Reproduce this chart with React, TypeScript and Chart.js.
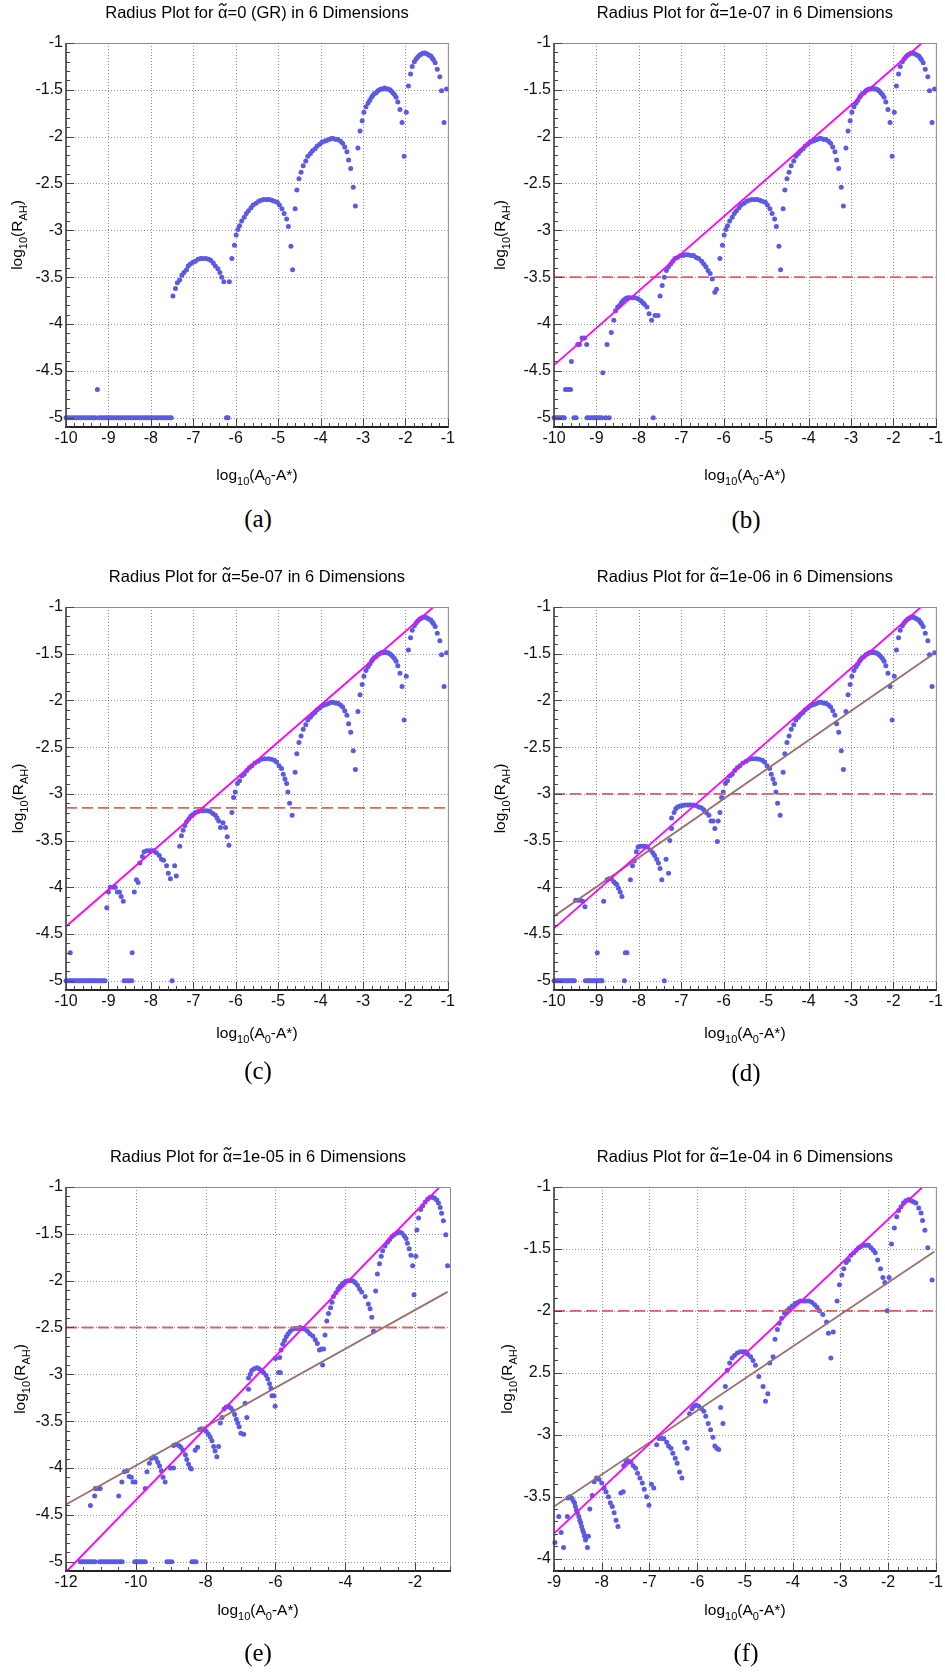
import React, { useEffect, useRef } from "react";
import { Chart, registerables } from "chart.js";
Chart.register(...registerables);

type P = [number, number];

// ---------- tick labels ----------
const xTicks10 = [-10, -9, -8, -7, -6, -5, -4, -3, -2, -1];
const xLabels10 = ["-10", "-9", "-8", "-7", "-6", "-5", "-4", "-3", "-2", "-1"];
const xTicks12 = [-12, -10, -8, -6, -4, -2];
const xLabels12 = ["-12", "-10", "-8", "-6", "-4", "-2"];
const xTicks9 = [-9, -8, -7, -6, -5, -4, -3, -2, -1];
const xLabels9 = ["-9", "-8", "-7", "-6", "-5", "-4", "-3", "-2", "-1"];
const yTicks5 = [-5, -4.5, -4, -3.5, -3, -2.5, -2, -1.5, -1];
const yLabels5 = ["-5", "-4.5", "-4", "-3.5", "-3", "-2.5", "-2", "-1.5", "-1"];
const yTicks4 = [-4, -3.5, -3, -2.5, -2, -1.5, -1];
const yLabels4 = ["-4", "-3.5", "-3", "2.5", "-2", "-1.5", "-1"];

// title pieces: [before alpha, alpha, after alpha]
const titleHead = "Radius Plot for ";
const titleAlpha = "\u03b1";
const titleTails = ["=0 (GR) in 6 Dimensions", "=1e-07 in 6 Dimensions", "=5e-07 in 6 Dimensions", "=1e-06 in 6 Dimensions", "=1e-05 in 6 Dimensions", "=1e-04 in 6 Dimensions"];
const captions = ["(a)", "(b)", "(c)", "(d)", "(e)", "(f)"];
const floorLevel = -5;

// ---------- shared upper arches (panels a-d) ----------
const archHi6: P[] = [[-1.93,-1.46],[-1.88,-1.33],[-1.84,-1.25],[-1.79,-1.2],[-1.75,-1.17],[-1.71,-1.15],[-1.67,-1.13],[-1.63,-1.12],[-1.59,-1.11],[-1.55,-1.107],[-1.52,-1.11],[-1.48,-1.12],[-1.44,-1.13],[-1.4,-1.14],[-1.37,-1.16],[-1.34,-1.18],[-1.3,-1.21],[-1.25,-1.28],[-1.19,-1.36],[-1.15,-1.51],[-1.09,-1.85],[-1.03,-1.49]];
const archHi5: P[] = [[-3.12,-2.12],[-3.07,-1.94],[-3.02,-1.83],[-2.98,-1.74],[-2.93,-1.68],[-2.88,-1.64],[-2.84,-1.61],[-2.8,-1.58],[-2.77,-1.56],[-2.73,-1.54],[-2.69,-1.53],[-2.65,-1.51],[-2.61,-1.5],[-2.57,-1.49],[-2.53,-1.49],[-2.49,-1.48],[-2.45,-1.49],[-2.41,-1.49],[-2.37,-1.5],[-2.34,-1.51],[-2.3,-1.53],[-2.26,-1.55],[-2.22,-1.58],[-2.18,-1.63],[-2.13,-1.71],[-2.08,-1.85],[-2.03,-2.21],[-1.98,-1.74]];
const archHi4: P[] = [[-4.6,-2.77],[-4.56,-2.57],[-4.51,-2.45],[-4.46,-2.38],[-4.41,-2.31],[-4.35,-2.26],[-4.3,-2.21],[-4.24,-2.18],[-4.19,-2.15],[-4.13,-2.13],[-4.08,-2.1],[-4.02,-2.08],[-3.97,-2.06],[-3.91,-2.05],[-3.86,-2.04],[-3.8,-2.03],[-3.75,-2.02],[-3.7,-2.02],[-3.64,-2.03],[-3.59,-2.03],[-3.53,-2.05],[-3.48,-2.07],[-3.43,-2.11],[-3.38,-2.16],[-3.34,-2.25],[-3.29,-2.34],[-3.23,-2.54],[-3.18,-2.74]];
const archMid3ab: P[] = [[-6.09,-3.3],[-6.03,-3.16],[-5.99,-3.05],[-5.95,-2.99],[-5.91,-2.95],[-5.86,-2.9],[-5.8,-2.86],[-5.75,-2.82],[-5.7,-2.79],[-5.64,-2.76],[-5.59,-2.73],[-5.52,-2.71],[-5.46,-2.69],[-5.4,-2.68],[-5.34,-2.67],[-5.27,-2.67],[-5.21,-2.67],[-5.15,-2.68],[-5.09,-2.69],[-5.02,-2.7],[-4.97,-2.73],[-4.91,-2.77],[-4.86,-2.82],[-4.8,-2.88],[-4.76,-2.96],[-4.7,-3.17],[-4.66,-3.42]];
const archMid3cd: P[] = [[-6.09,-3.2],[-6.05,-3.04],[-6.01,-2.98],[-5.96,-2.89],[-5.91,-2.86],[-5.86,-2.81],[-5.8,-2.79],[-5.74,-2.75],[-5.68,-2.72],[-5.62,-2.7],[-5.55,-2.67],[-5.47,-2.65],[-5.39,-2.63],[-5.31,-2.625],[-5.23,-2.625],[-5.16,-2.63],[-5.09,-2.64],[-5.04,-2.66],[-4.98,-2.7],[-4.92,-2.73],[-4.88,-2.79],[-4.84,-2.84],[-4.8,-2.89],[-4.77,-2.98],[-4.73,-3.1],[-4.67,-3.23]];

// ---------- panel (a) ----------
const aArch2: P[] = [[-7.48,-3.7],[-7.42,-3.62],[-7.375,-3.56],[-7.32,-3.53],[-7.27,-3.48],[-7.22,-3.45],[-7.16,-3.42],[-7.12,-3.38],[-7.07,-3.36],[-7.01,-3.34],[-6.95,-3.33],[-6.89,-3.31],[-6.83,-3.3],[-6.77,-3.3],[-6.7,-3.3],[-6.64,-3.31],[-6.59,-3.32],[-6.53,-3.35],[-6.48,-3.38],[-6.42,-3.41],[-6.375,-3.45],[-6.33,-3.5],[-6.28,-3.55],[-6.15,-3.55]];
const aLow: P[] = [[-9.26,-4.7],[-6.22,-5],[-6.18,-5]];
const aFloorX = [-10,-9.95,-9.9,-9.85,-9.8,-9.75,-9.7,-9.65,-9.6,-9.55,-9.5,-9.45,-9.4,-9.35,-9.3,-9.22,-9.17,-9.12,-9.07,-9.02,-8.97,-8.92,-8.87,-8.82,-8.77,-8.72,-8.67,-8.62,-8.57,-8.52,-8.47,-8.42,-8.37,-8.32,-8.27,-8.22,-8.17,-8.12,-8.07,-8.02,-7.97,-7.92,-7.87,-7.82,-7.77,-7.72,-7.67,-7.62,-7.57,-7.52];

// ---------- panel (b) ----------
const bArch2: P[] = [[-7.5,-3.7],[-7.45,-3.59],[-7.4,-3.5],[-7.35,-3.43],[-7.3,-3.39],[-7.25,-3.36],[-7.2,-3.33],[-7.15,-3.3],[-7.09,-3.29],[-7.02,-3.27],[-6.96,-3.27],[-6.9,-3.26],[-6.84,-3.26],[-6.77,-3.27],[-6.71,-3.27],[-6.65,-3.29],[-6.59,-3.3],[-6.52,-3.33],[-6.47,-3.36],[-6.42,-3.39],[-6.37,-3.43],[-6.32,-3.46],[-6.27,-3.52],[-6.21,-3.66],[-6.17,-3.63]];
const bArch1: P[] = [[-8.65,-4.09],[-8.59,-3.96],[-8.55,-3.86],[-8.5,-3.82],[-8.45,-3.8],[-8.41,-3.77],[-8.37,-3.75],[-8.32,-3.73],[-8.27,-3.72],[-8.21,-3.72],[-8.15,-3.72],[-8.09,-3.72],[-8.02,-3.73],[-7.96,-3.75],[-7.91,-3.77],[-7.87,-3.79],[-7.81,-3.82],[-7.76,-3.89],[-7.7,-3.96],[-7.62,-3.91],[-7.55,-3.91]];
const bLow: P[] = [[-9.59,-4.4],[-9.73,-4.7],[-9.67,-4.7],[-9.61,-4.7],[-9.44,-4.22],[-9.4,-4.22],[-9.34,-4.15],[-9.28,-4.15],[-9.23,-4.22],[-8.85,-4.52],[-8.75,-4.22],[-7.66,-5]];
const bFloorX = [-10,-9.96,-9.92,-9.88,-9.84,-9.8,-9.76,-9.53,-9.48,-9.22,-9.17,-9.12,-9.07,-9.02,-8.97,-8.92,-8.87,-8.78,-8.7];
const bFit: P[] = [[-10,-4.44],[-1.33,-1]];
const bCut = -3.5;

// ---------- panel (c) ----------
const cArch2: P[] = [[-7.32,-3.56],[-7.28,-3.45],[-7.24,-3.39],[-7.2,-3.34],[-7.16,-3.3],[-7.11,-3.27],[-7.06,-3.24],[-7.01,-3.22],[-6.95,-3.2],[-6.88,-3.19],[-6.8,-3.18],[-6.73,-3.18],[-6.66,-3.18],[-6.6,-3.19],[-6.54,-3.21],[-6.48,-3.23],[-6.44,-3.26],[-6.4,-3.29],[-6.36,-3.36],[-6.3,-3.31],[-6.24,-3.36],[-6.2,-3.46],[-6.16,-3.55]];
const cArch1: P[] = [[-7.44,-3.77],[-7.4,-3.88],[-7.54,-3.91],[-7.59,-3.85],[-7.63,-3.77],[-7.7,-3.71],[-7.75,-3.7],[-7.8,-3.66],[-7.87,-3.63],[-7.93,-3.61],[-7.98,-3.61],[-8.04,-3.61],[-8.1,-3.61],[-8.16,-3.62],[-8.2,-3.67],[-8.26,-3.74],[-8.3,-3.95],[-8.34,-3.92],[-8.39,-4.05]];
const cArch0: P[] = [[-8.96,-4.0],[-8.88,-4.0],[-8.84,-4.0],[-8.79,-4.05],[-8.74,-4.05],[-8.7,-4.1],[-8.65,-4.15],[-9.04,-4.22],[-9.0,-4.05]];
const cLow: P[] = [[-9.9,-4.7],[-8.44,-4.7],[-7.5,-5]];
const cFloorX = [-10,-9.96,-9.92,-9.88,-9.84,-9.8,-9.76,-9.72,-9.68,-9.64,-9.6,-9.56,-9.52,-9.48,-9.44,-9.4,-9.36,-9.32,-9.28,-9.24,-9.2,-9.16,-9.12,-9.08,-8.63,-8.57,-8.51,-8.45];
const cFit: P[] = [[-10,-4.42],[-1.34,-1]];
const cCut = -3.15;

// ---------- panel (d) ----------
const dArch2: P[] = [[-7.23,-3.26],[-7.17,-3.2],[-7.13,-3.16],[-7.09,-3.14],[-7.03,-3.13],[-6.97,-3.125],[-6.91,-3.12],[-6.84,-3.12],[-6.78,-3.12],[-6.72,-3.12],[-6.66,-3.125],[-6.59,-3.14],[-6.53,-3.15],[-6.47,-3.17],[-6.41,-3.2],[-6.35,-3.23],[-6.3,-3.29],[-6.25,-3.29],[-6.21,-3.37],[-6.15,-3.51],[-6.13,-3.29]];
const dArch1b: P[] = [[-7.27,-3.5],[-7.23,-3.37],[-7.3,-3.85],[-7.36,-3.7],[-7.46,-3.92],[-7.5,-3.8],[-7.54,-3.74],[-7.58,-3.7],[-7.63,-3.66],[-7.67,-3.63],[-7.73,-3.6],[-7.8,-3.57],[-7.85,-3.56],[-7.91,-3.56],[-7.97,-3.56],[-8.02,-3.57],[-8.06,-3.62],[-8.11,-3.72],[-8.15,-3.77],[-8.2,-3.92]];
const dArch1a: P[] = [[-8.75,-3.92],[-8.7,-3.91],[-8.65,-3.91],[-8.59,-3.94],[-8.55,-3.96],[-8.52,-3.97],[-8.48,-4.01],[-8.44,-4.05],[-8.4,-4.1],[-8.83,-4.15]];
const dLow: P[] = [[-9.49,-4.14],[-9.43,-4.14],[-9.375,-4.14],[-9.32,-4.15],[-9.27,-4.21],[-8.98,-4.7],[-8.32,-4.7],[-8.28,-4.7],[-8.34,-5],[-7.4,-5]];
const dFloorX = [-10,-9.96,-9.92,-9.88,-9.84,-9.8,-9.76,-9.72,-9.68,-9.64,-9.6,-9.56,-9.52,-9.26,-9.22,-9.18,-9.14,-9.1,-9.06,-9.02,-8.98,-8.94,-8.9,-8.87];
const dFit: P[] = [[-10,-4.44],[-1.35,-1]];
const dFit2: P[] = [[-10,-4.31],[-1.05,-1.5]];
const dCut = -3.0;

// ---------- panel (e) ----------
const e6: P[] = [[-1.95,-1.46],[-1.9,-1.33],[-1.84,-1.24],[-1.78,-1.2],[-1.71,-1.16],[-1.64,-1.13],[-1.57,-1.11],[-1.5,-1.11],[-1.44,-1.12],[-1.38,-1.14],[-1.33,-1.17],[-1.28,-1.22],[-1.24,-1.28],[-1.19,-1.36],[-1.12,-1.51],[-1.07,-1.84]];
const e5: P[] = [[-3.13,-2.11],[-3.08,-1.93],[-3.02,-1.82],[-2.97,-1.74],[-2.93,-1.68],[-2.86,-1.63],[-2.79,-1.59],[-2.73,-1.56],[-2.67,-1.53],[-2.6,-1.51],[-2.52,-1.49],[-2.45,-1.48],[-2.38,-1.49],[-2.31,-1.52],[-2.26,-1.55],[-2.22,-1.6],[-2.17,-1.66],[-2.12,-1.73],[-2.07,-1.84],[-2.03,-2.15],[-1.98,-1.74]];
const e4: P[] = [[-4.58,-2.58],[-4.53,-2.43],[-4.48,-2.35],[-4.42,-2.29],[-4.38,-2.23],[-4.34,-2.17],[-4.27,-2.13],[-4.21,-2.09],[-4.15,-2.06],[-4.08,-2.03],[-4.0,-2.01],[-3.93,-2.0],[-3.86,-2.0],[-3.78,-2.0],[-3.72,-2.02],[-3.65,-2.05],[-3.59,-2.09],[-3.53,-2.12],[-3.43,-2.17],[-3.34,-2.25],[-3.29,-2.3],[-3.24,-2.39],[-3.19,-2.54]];
const e3: P[] = [[-6.0,-2.83],[-5.91,-2.98],[-5.86,-2.98],[-5.88,-2.82],[-5.84,-2.74],[-5.79,-2.68],[-5.74,-2.64],[-5.69,-2.6],[-5.64,-2.57],[-5.58,-2.54],[-5.51,-2.52],[-5.44,-2.51],[-5.36,-2.51],[-5.29,-2.5],[-5.23,-2.51],[-5.15,-2.52],[-5.08,-2.54],[-5.01,-2.57],[-4.93,-2.59],[-4.86,-2.63],[-4.8,-2.67],[-4.74,-2.74],[-4.68,-2.73],[-4.62,-2.73],[-4.65,-2.9]];
const e2: P[] = [[-6.87,-3.31],[-6.82,-3.46],[-6.77,-3.16],[-6.77,-3.04],[-6.72,-3.0],[-6.68,-2.96],[-6.61,-2.94],[-6.53,-2.93],[-6.47,-2.94],[-6.41,-2.96],[-6.34,-2.98],[-6.27,-3.01],[-6.22,-3.05],[-6.17,-3.1],[-6.13,-3.15],[-6.1,-3.23],[-6.04,-3.23],[-6.01,-3.34]];
const e1d: P[] = [[-7.58,-3.52],[-7.53,-3.46],[-7.47,-3.37],[-7.41,-3.35],[-7.34,-3.34],[-7.28,-3.36],[-7.22,-3.39],[-7.17,-3.43],[-7.12,-3.48],[-7.08,-3.52],[-7.04,-3.56],[-6.99,-3.63],[-6.91,-3.64]];
const e1c: P[] = [[-8.3,-3.81],[-8.23,-3.78],[-8.17,-3.59],[-8.11,-3.58],[-8.04,-3.59],[-7.98,-3.61],[-7.92,-3.64],[-7.87,-3.67],[-7.82,-3.71],[-7.77,-3.77],[-7.73,-3.82],[-7.68,-3.88],[-7.63,-3.77]];
const e1b: P[] = [[-9.01,-4.0],[-8.92,-4.0],[-8.92,-3.76],[-8.85,-3.75],[-8.77,-3.76],[-8.71,-3.78],[-8.65,-3.81],[-8.58,-3.86],[-8.54,-3.91],[-8.49,-3.96],[-8.44,-4.0],[-8.41,-4.01]];
const e1a: P[] = [[-9.73,-4.22],[-9.68,-4.04],[-9.61,-3.95],[-9.56,-3.9],[-9.49,-3.88],[-9.42,-3.9],[-9.37,-3.94],[-9.32,-3.98],[-9.27,-4.03],[-9.22,-4.1],[-9.16,-4.15]];
const e0: P[] = [[-10.49,-4.3],[-10.4,-4.15],[-10.33,-4.04],[-10.25,-4.03],[-10.19,-4.09],[-10.13,-4.1],[-10.08,-4.15],[-10.02,-4.15]];
const eLow: P[] = [[-11.3,-4.4],[-11.18,-4.3],[-11.16,-4.22],[-11.09,-4.22],[-11.02,-4.22]];
const eFloorX = [-11.59,-11.53,-11.47,-11.41,-11.35,-11.29,-11.23,-11.17,-11.04,-10.98,-10.92,-10.86,-10.8,-10.74,-10.68,-10.62,-10.56,-10.5,-10.44,-10.39,-10.03,-9.97,-9.91,-9.85,-9.79,-9.73,-9.11,-9.04,-8.97,-8.39,-8.33,-8.28];
const eFit: P[] = [[-11.97,-5.1],[-1.3,-1]];
const eFit2: P[] = [[-12,-4.39],[-1.07,-2.12]];
const eCut = -2.5;

// ---------- panel (f) ----------
const f6: P[] = [[-1.93,-1.46],[-1.87,-1.33],[-1.82,-1.24],[-1.78,-1.19],[-1.73,-1.16],[-1.68,-1.13],[-1.63,-1.11],[-1.57,-1.1],[-1.52,-1.11],[-1.47,-1.12],[-1.42,-1.13],[-1.36,-1.17],[-1.31,-1.21],[-1.28,-1.27],[-1.23,-1.35],[-1.17,-1.49],[-1.08,-1.75]];
const f5: P[] = [[-3.07,-1.92],[-3.02,-1.79],[-2.97,-1.71],[-2.93,-1.66],[-2.88,-1.61],[-2.83,-1.59],[-2.78,-1.55],[-2.72,-1.53],[-2.67,-1.51],[-2.62,-1.49],[-2.57,-1.48],[-2.51,-1.47],[-2.46,-1.47],[-2.41,-1.47],[-2.36,-1.49],[-2.31,-1.51],[-2.27,-1.53],[-2.22,-1.59],[-2.16,-1.66],[-2.11,-1.73],[-2.07,-1.77],[-2.02,-2.0],[-1.98,-1.73]];
const f4: P[] = [[-4.48,-2.42],[-4.41,-2.37],[-4.37,-2.23],[-4.32,-2.15],[-4.28,-2.1],[-4.23,-2.06],[-4.17,-2.02],[-4.12,-2.0],[-4.07,-1.98],[-4.01,-1.96],[-3.95,-1.94],[-3.89,-1.93],[-3.84,-1.92],[-3.77,-1.92],[-3.72,-1.92],[-3.66,-1.92],[-3.6,-1.93],[-3.54,-1.95],[-3.49,-1.97],[-3.44,-2.0],[-3.37,-2.03],[-3.29,-2.09],[-3.25,-2.18],[-3.15,-2.17],[-3.2,-2.38]];
const f3: P[] = [[-5.46,-2.91],[-5.51,-2.78],[-5.41,-2.61],[-5.37,-2.48],[-5.32,-2.42],[-5.27,-2.38],[-5.22,-2.36],[-5.16,-2.34],[-5.1,-2.33],[-5.04,-2.33],[-4.99,-2.33],[-4.94,-2.35],[-4.88,-2.37],[-4.83,-2.4],[-4.78,-2.44],[-4.71,-2.53],[-4.62,-2.61],[-4.52,-2.67],[-4.57,-2.73]];
const f2: P[] = [[-6.16,-2.83],[-6.11,-2.79],[-6.07,-2.77],[-6.02,-2.76],[-5.97,-2.77],[-5.91,-2.79],[-5.86,-2.81],[-5.82,-2.85],[-5.77,-2.91],[-5.72,-2.96],[-5.67,-3.02],[-5.63,-3.09],[-5.59,-3.11],[-5.55,-3.12]];
const f1d: P[] = [[-6.85,-3.08],[-6.8,-3.03],[-6.75,-3.03],[-6.7,-3.03],[-6.64,-3.06],[-6.6,-3.09],[-6.55,-3.11],[-6.51,-3.15],[-6.46,-3.19],[-6.42,-3.23],[-6.37,-3.3],[-6.32,-3.35],[-6.26,-3.06],[-6.21,-3.11]];
const f1c: P[] = [[-7.6,-3.47],[-7.55,-3.46],[-7.54,-3.25],[-7.49,-3.22],[-7.45,-3.21],[-7.39,-3.22],[-7.34,-3.25],[-7.29,-3.27],[-7.25,-3.31],[-7.2,-3.35],[-7.15,-3.39],[-7.11,-3.44],[-7.06,-3.5],[-7.01,-3.57],[-6.96,-3.4],[-6.91,-3.43]];
const f1b: P[] = [[-8.25,-3.6],[-8.2,-3.49],[-8.16,-3.38],[-8.11,-3.35],[-8.06,-3.36],[-8.0,-3.39],[-7.95,-3.43],[-7.91,-3.46],[-7.86,-3.5],[-7.82,-3.55],[-7.78,-3.58],[-7.74,-3.63],[-7.7,-3.69],[-7.66,-3.74]];
const f1a: P[] = [[-8.71,-3.51],[-8.67,-3.5],[-8.63,-3.51],[-8.6,-3.53],[-8.57,-3.55],[-8.55,-3.58],[-8.53,-3.61],[-8.51,-3.63],[-8.48,-3.66],[-8.46,-3.69],[-8.44,-3.71],[-8.42,-3.74],[-8.4,-3.77],[-8.38,-3.79],[-8.36,-3.82],[-8.34,-3.85],[-8.32,-3.82],[-8.3,-3.91],[-8.28,-3.82]];
const fLow: P[] = [[-8.9,-3.66],[-8.72,-3.66],[-8.85,-3.79],[-8.98,-3.87],[-8.8,-3.91]];
const fFit: P[] = [[-8.98,-3.79],[-1.28,-1]];
const fFit2: P[] = [[-9,-3.58],[-1.03,-1.52]];
const fCut = -2.0;

// ---------- styles ----------
const DOT = "#5a5ae4";
const MAGENTA = "#ff00ff";
const BROWN = "#9c6f6f";
const CUTRED = "#d9625f";
const SANS = '"Liberation Sans", Arial, sans-serif';

interface Panel {
  idx: number;
  plotL: number; plotT: number; plotH: number;
  xMin: number; xMax: number; yMin: number; yMax: number;
  xTicks: number[]; xLabels: string[]; xMinor: number;
  yTicks: number[]; yLabels: string[];
  groups: P[][]; floorX: number[];
  fits: { pts: P[]; color: string }[];
  cut: number | null;
  xTitleOff: number; yTitleX: number; captionY: number;
}

const PLOT_W = 384;
const padL = 66, padT = 43, padR = 7, padB = 70;

const panels: Panel[] = [
  { idx: 0, plotL: 66, plotT: 43, plotH: 384, xMin: -10, xMax: -1, yMin: -5.1, yMax: -1,
    xTicks: xTicks10, xLabels: xLabels10, xMinor: 0.2, yTicks: yTicks5, yLabels: yLabels5,
    groups: [archHi6, archHi5, archHi4, archMid3ab, aArch2, aLow], floorX: aFloorX, fits: [], cut: null,
    xTitleOff: 49, yTitleX: 18, captionY: 519 },
  { idx: 1, plotL: 554, plotT: 43, plotH: 384, xMin: -10, xMax: -1, yMin: -5.1, yMax: -1,
    xTicks: xTicks10, xLabels: xLabels10, xMinor: 0.2, yTicks: yTicks5, yLabels: yLabels5,
    groups: [archHi6, archHi5, archHi4, archMid3ab, bArch2, bArch1, bLow], floorX: bFloorX,
    fits: [{ pts: bFit, color: MAGENTA }], cut: bCut,
    xTitleOff: 49, yTitleX: 13, captionY: 520 },
  { idx: 2, plotL: 66, plotT: 607, plotH: 383, xMin: -10, xMax: -1, yMin: -5.1, yMax: -1,
    xTicks: xTicks10, xLabels: xLabels10, xMinor: 0.2, yTicks: yTicks5, yLabels: yLabels5,
    groups: [archHi6, archHi5, archHi4, archMid3cd, cArch2, cArch1, cArch0, cLow], floorX: cFloorX,
    fits: [{ pts: cFit, color: MAGENTA }], cut: cCut,
    xTitleOff: 44, yTitleX: 19, captionY: 1071 },
  { idx: 3, plotL: 554, plotT: 607, plotH: 383, xMin: -10, xMax: -1, yMin: -5.1, yMax: -1,
    xTicks: xTicks10, xLabels: xLabels10, xMinor: 0.2, yTicks: yTicks5, yLabels: yLabels5,
    groups: [archHi6, archHi5, archHi4, archMid3cd, dArch2, dArch1b, dArch1a, dLow], floorX: dFloorX,
    fits: [{ pts: dFit, color: MAGENTA }, { pts: dFit2, color: BROWN }], cut: dCut,
    xTitleOff: 44, yTitleX: 13, captionY: 1073 },
  { idx: 4, plotL: 66, plotT: 1187, plotH: 384, xMin: -12, xMax: -1, yMin: -5.1, yMax: -1,
    xTicks: xTicks12, xLabels: xLabels12, xMinor: 0.5, yTicks: yTicks5, yLabels: yLabels5,
    groups: [e6, e5, e4, e3, e2, e1d, e1c, e1b, e1a, e0, eLow], floorX: eFloorX,
    fits: [{ pts: eFit, color: MAGENTA }, { pts: eFit2, color: BROWN }], cut: eCut,
    xTitleOff: 40, yTitleX: 21, captionY: 1653 },
  { idx: 5, plotL: 554, plotT: 1187, plotH: 384, xMin: -9, xMax: -1, yMin: -4.1, yMax: -1,
    xTicks: xTicks9, xLabels: xLabels9, xMinor: 0.2, yTicks: yTicks4, yLabels: yLabels4,
    groups: [f6, f5, f4, f3, f2, f1d, f1c, f1b, f1a, fLow], floorX: [],
    fits: [{ pts: fFit, color: MAGENTA }, { pts: fFit2, color: BROWN }], cut: fCut,
    xTitleOff: 40, yTitleX: 20, captionY: 1653 },
];

function drawRich(ctx: CanvasRenderingContext2D, parts: [string, boolean][], cx: number, cy: number, size: number) {
  const main = `${size}px ${SANS}`;
  const sub = `${Math.round(size * 0.68)}px ${SANS}`;
  let total = 0;
  for (const [t, s] of parts) { ctx.font = s ? sub : main; total += ctx.measureText(t).width; }
  let x = cx - total / 2;
  ctx.textAlign = "left";
  ctx.textBaseline = "middle";
  for (const [t, s] of parts) {
    ctx.font = s ? sub : main;
    ctx.fillText(t, x, s ? cy + size * 0.36 : cy);
    x += ctx.measureText(t).width;
  }
}

function drawTitle(ctx: CanvasRenderingContext2D, idx: number, cx: number, cy: number) {
  const size = 16.5;
  ctx.font = `${size}px ${SANS}`;
  ctx.textAlign = "left";
  ctx.textBaseline = "middle";
  const tail = titleTails[idx];
  const w1 = ctx.measureText(titleHead).width;
  const w2 = ctx.measureText(titleAlpha).width;
  const w3 = ctx.measureText(tail).width;
  let x = cx - (w1 + w2 + w3) / 2;
  ctx.fillText(titleHead, x, cy);
  x += w1;
  ctx.fillText(titleAlpha, x, cy);
  // tilde accent over alpha
  const ax = x + w2 / 2;
  const ay = cy - 8.5;
  ctx.save();
  ctx.strokeStyle = "#000";
  ctx.lineWidth = 1.1;
  ctx.beginPath();
  ctx.moveTo(ax - 3.6, ay + 1.2);
  ctx.bezierCurveTo(ax - 2.4, ay - 1.6, ax - 1.0, ay - 1.0, ax, ay);
  ctx.bezierCurveTo(ax + 1.0, ay + 1.0, ax + 2.4, ay + 1.6, ax + 3.6, ay - 1.2);
  ctx.stroke();
  ctx.restore();
  x += w2;
  ctx.fillText(tail, x, cy);
}

function makeDecor(p: Panel) {
  return {
    id: "rootDecor" + p.idx,
    beforeDatasetsDraw(chart: any) {
      const { ctx, chartArea: a } = chart;
      const xs = chart.scales.x, ys = chart.scales.y;
      ctx.save();
      ctx.strokeStyle = "rgba(70,70,70,0.6)";
      ctx.lineWidth = 1;
      ctx.setLineDash([1, 2]);
      ctx.beginPath();
      for (const v of p.xTicks) {
        const px = Math.round(xs.getPixelForValue(v)) + 0.5;
        ctx.moveTo(px, a.top); ctx.lineTo(px, a.bottom);
      }
      for (const v of p.yTicks) {
        const py = Math.round(ys.getPixelForValue(v)) + 0.5;
        ctx.moveTo(a.left, py); ctx.lineTo(a.right, py);
      }
      ctx.stroke();
      ctx.restore();
    },
    afterDatasetsDraw(chart: any) {
      const { ctx, chartArea: a } = chart;
      const xs = chart.scales.x, ys = chart.scales.y;
      ctx.save();
      ctx.strokeStyle = "#8c8c8c";
      ctx.lineWidth = 1;
      ctx.beginPath();
      ctx.moveTo(a.left, a.top + 0.5); ctx.lineTo(a.right + 0.5, a.top + 0.5); ctx.lineTo(a.right + 0.5, a.bottom);
      ctx.stroke();
      ctx.strokeStyle = "#333";
      ctx.lineWidth = 1.5;
      ctx.beginPath();
      ctx.moveTo(a.left, a.top); ctx.lineTo(a.left, a.bottom);
      ctx.stroke();
      ctx.strokeStyle = "#222";
      ctx.lineWidth = 2;
      ctx.beginPath();
      ctx.moveTo(a.left - 1, a.bottom); ctx.lineTo(a.right + 1, a.bottom);
      ctx.stroke();
      ctx.strokeStyle = "#444";
      ctx.lineWidth = 1;
      ctx.beginPath();
      const nx = Math.round((p.xMax - p.xMin) / p.xMinor);
      for (let i = 0; i <= nx; i++) {
        const v = p.xMin + i * p.xMinor;
        const major = p.xTicks.some((t) => Math.abs(t - v) < 1e-6);
        const px = Math.round(xs.getPixelForValue(v)) + 0.5;
        ctx.moveTo(px, a.bottom); ctx.lineTo(px, a.bottom - (major ? 8 : 4));
      }
      const y0 = Math.ceil(p.yMin * 10 - 1e-6);
      const y1 = Math.floor(p.yMax * 10 + 1e-6);
      for (let k = y0; k <= y1; k++) {
        const v = k / 10;
        const major = p.yTicks.some((t) => Math.abs(t - v) < 1e-6);
        const py = Math.round(ys.getPixelForValue(v)) + 0.5;
        ctx.moveTo(a.left, py); ctx.lineTo(a.left + (major ? 8 : 4), py);
      }
      ctx.stroke();
      ctx.restore();
    },
    afterDraw(chart: any) {
      const { ctx, chartArea: a } = chart;
      ctx.save();
      ctx.fillStyle = "#000";
      const cx = (a.left + a.right) / 2;
      drawTitle(ctx, p.idx, cx, a.top - 30);
      drawRich(ctx, [["log", false], ["10", true], ["(A", false], ["0", true], ["-A*)", false]], cx, a.bottom + p.xTitleOff, 15.5);
      ctx.translate(p.yTitleX, (a.top + a.bottom) / 2);
      ctx.rotate(-Math.PI / 2);
      drawRich(ctx, [["log", false], ["10", true], ["(R", false], ["AH", true], [")", false]], 0, 0, 15.5);
      ctx.restore();
    },
  };
}

function PanelChart({ p }: { p: Panel }) {
  const ref = useRef<HTMLCanvasElement | null>(null);
  const W = padL + PLOT_W + padR;
  const H = padT + p.plotH + padB;
  useEffect(() => {
    if (!ref.current) return;
    const pts: { x: number; y: number }[] = [];
    for (const g of p.groups) for (const [x, y] of g) pts.push({ x, y });
    for (const x of p.floorX) pts.push({ x, y: floorLevel });
    const datasets: any[] = [];
    for (const f of p.fits) {
      datasets.push({
        data: f.pts.map(([x, y]) => ({ x, y })), showLine: true, borderColor: f.color,
        borderWidth: 1.8, pointRadius: 0, order: 1, clip: 0,
      });
    }
    if (p.cut !== null) {
      datasets.push({
        data: [{ x: p.xMin, y: p.cut }, { x: p.xMax, y: p.cut }], showLine: true, borderColor: CUTRED,
        borderWidth: 1.8, borderDash: [11, 5], pointRadius: 0, order: 1, clip: 0,
      });
    }
    datasets.push({
      data: pts, showLine: false, pointRadius: 2.5, pointBackgroundColor: DOT,
      pointBorderWidth: 0, pointBorderColor: DOT, order: 2, clip: 4,
    });
    const tickFont = { family: SANS, size: 16 };
    const chart = new Chart(ref.current, {
      type: "scatter",
      data: { datasets },
      options: {
        animation: false,
        responsive: false,
        maintainAspectRatio: false,
        events: [],
        layout: { padding: { left: 0, top: padT, right: padR, bottom: 0 } },
        plugins: { legend: { display: false }, tooltip: { enabled: false }, title: { display: false } },
        scales: {
          x: {
            type: "linear", min: p.xMin, max: p.xMax,
            afterBuildTicks: (s: any) => { s.ticks = p.xTicks.map((v) => ({ value: v })); },
            afterFit: (s: any) => { s.height = padB; },
            ticks: { font: tickFont, color: "#111", padding: 2, maxRotation: 0, autoSkip: false,
              callback: (_v: any, i: number) => p.xLabels[i] },
            grid: { display: false, drawTicks: false },
            border: { display: false },
          },
          y: {
            type: "linear", min: p.yMin, max: p.yMax,
            afterBuildTicks: (s: any) => { s.ticks = p.yTicks.map((v) => ({ value: v })); },
            afterFit: (s: any) => { s.width = padL; },
            ticks: { font: tickFont, color: "#111", padding: 3, autoSkip: false,
              callback: (_v: any, i: number) => p.yLabels[i] },
            grid: { display: false, drawTicks: false },
            border: { display: false },
          },
        },
      } as any,
      plugins: [makeDecor(p)],
    });
    return () => chart.destroy();
  }, [p]);
  return (
    <canvas
      ref={ref}
      width={W}
      height={H}
      style={{ position: "absolute", left: p.plotL - padL, top: p.plotT - padT, width: W, height: H }}
    />
  );
}

function Caption({ p }: { p: Panel }) {
  return (
    <div
      style={{
        position: "absolute", left: p.plotL + PLOT_W / 2 - 60, width: 120, top: p.captionY - 15,
        height: 30, lineHeight: "30px", textAlign: "center",
        fontFamily: '"Liberation Serif", "DejaVu Serif", serif', fontSize: 25, color: "#000",
      }}
    >
      {captions[p.idx]}
    </div>
  );
}

export default function App() {
  return (
    <div style={{ position: "absolute", left: 0, top: 0, width: 945, height: 1675, background: "#fff", overflow: "hidden" }}>
      {panels.map((p) => (
        <React.Fragment key={p.idx}>
          <PanelChart p={p} />
          <Caption p={p} />
        </React.Fragment>
      ))}
    </div>
  );
}
